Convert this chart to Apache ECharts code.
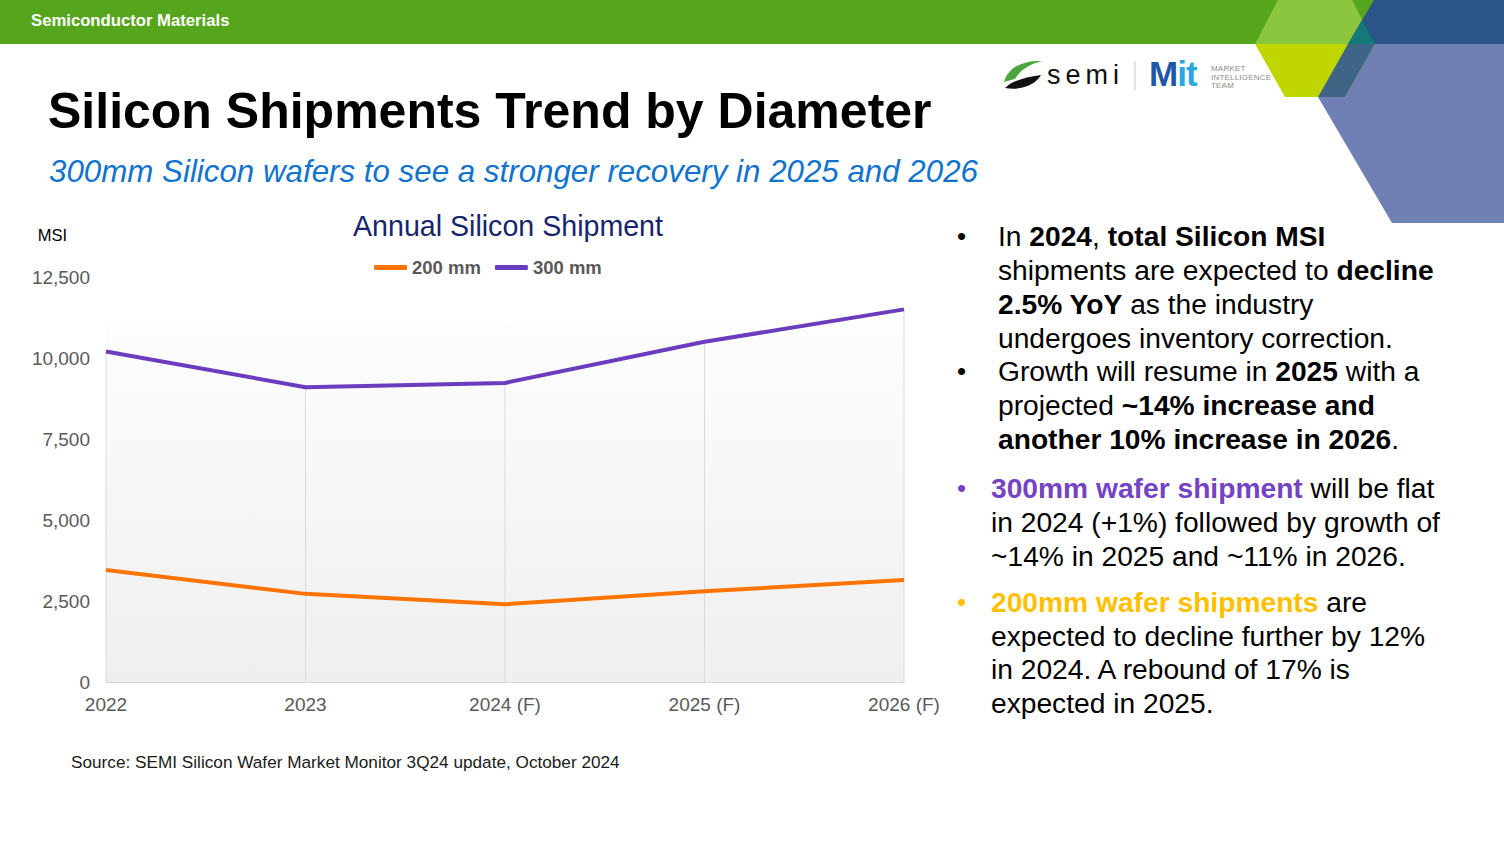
<!DOCTYPE html>
<html>
<head>
<meta charset="utf-8">
<script src="https://cdn.jsdelivr.net/npm/echarts@6/dist/echarts.min.js"></script>
<style>
  html, body { margin: 0; padding: 0; background: #ffffff; }
  body { width: 1504px; height: 846px; position: relative; overflow: hidden; font-family: "Liberation Sans", Arial, sans-serif; }
  .abs { position: absolute; white-space: nowrap; }
  #band { position: absolute; left: 0; top: 0; width: 1504px; height: 44px; background: #56a61d; }
  #hdr { left: 31px; top: 12px; font-size: 16.7px; line-height: 18px; font-weight: bold; color: #ffffff; }
  #title { left: 48px; top: 86px; font-size: 50px; line-height: 50px; font-weight: bold; color: #000; }
  #subtitle { left: 49px; top: 156px; font-size: 31.3px; line-height: 31px; font-style: italic; color: #1073cc; }
  #source { left: 71px; top: 753px; font-size: 17.2px; line-height: 18px; color: #1a1a1a; }
  .para { position: absolute; font-size: 28.2px; line-height: 34px; color: #000; white-space: nowrap; }
  .bul { position: absolute; left: -38px; top: 0; font-size: 26px; }
  #chart { position: absolute; left: 0; top: 0; width: 1504px; height: 846px; }
  #deco { position: absolute; left: 0; top: 0; }
</style>
</head>
<body>
<div id="band"></div>
<svg id="deco" width="1504" height="230">
  <!-- lower shapes (below band) -->
  <polygon points="1348,44 1504,44 1504,223 1392,223 1318,97" fill="#7080b5"/>
  <polygon points="1255,44 1375,44 1345,97 1285,97" fill="#bfd600"/>
  <polygon points="1348,44 1375,44 1345,97 1318,97" fill="#3e6486"/>
  <!-- band shapes -->
  <polygon points="1278,0 1352,0 1375,44 1255,44" fill="#8cc63f"/>
  <polygon points="1374,0 1504,0 1504,44 1348,44" fill="#2b5589"/>
  <polygon points="1362,20 1375,44 1348,44" fill="#137a79"/>
  <!-- semi logo swoosh -->
  <path d="M1004,82 C1008,68 1022,60 1042,61 C1030,64 1020,70 1015,79 C1011,80 1007,81 1004,82 Z" fill="#4aa63c"/>
  <path d="M1005,88 C1012,80 1028,77 1041,75 C1036,84 1022,91 1005,88 Z" fill="#111111"/>
  <line x1="1135" y1="61" x2="1135" y2="90" stroke="#c8c8c8" stroke-width="1"/>
</svg>
<div class="abs" style="left:1047px; top:62px; font-size:27px; line-height:27px; letter-spacing:5px; color:#111;">semi</div>
<div class="abs" style="left:1149px; top:57px; font-size:35px; line-height:34px; font-weight:bold; letter-spacing:-1px;"><span style="color:#1f57a8">M</span><span style="color:#2aa7e2">it</span></div>
<div class="abs" style="left:1211px; top:65px; font-size:8px; line-height:8.5px; color:#8a8a8a; letter-spacing:0.2px;">MARKET<br>INTELLIGENCE<br>TEAM</div>

<div id="hdr" class="abs">Semiconductor Materials</div>
<div id="title" class="abs">Silicon Shipments Trend by Diameter</div>
<div id="subtitle" class="abs">300mm Silicon wafers to see a stronger recovery in 2025 and 2026</div>
<div id="source" class="abs">Source: SEMI Silicon Wafer Market Monitor 3Q24 update, October 2024</div>

<div class="para" style="left:998px; top:219px;"><span class="bul" style="left:-41px;">•</span>In <b>2024</b>, <b>total Silicon MSI</b><br>shipments are expected to <b>decline</b><br><b>2.5% YoY</b> as the industry<br>undergoes inventory correction.</div>
<div class="para" style="left:998px; top:354px;"><span class="bul" style="left:-41px;">•</span>Growth will resume in <b>2025</b> with a<br>projected <b>~14% increase and</b><br><b>another 10% increase in 2026</b>.</div>
<div class="para" style="left:991px; top:471px;"><span class="bul" style="left:-34px; color:#7443c4;">•</span><b style="color:#7443c4">300mm wafer shipment</b> will be flat<br>in 2024 (+1%) followed by growth of<br>~14% in 2025 and ~11% in 2026.</div>
<div class="para" style="left:991px; top:586px; line-height:33.7px;"><span class="bul" style="left:-34px; color:#ffc000;">•</span><b style="color:#ffc000">200mm wafer shipments</b> are<br>expected to decline further by 12%<br>in 2024. A rebound of 17% is<br>expected in 2025.</div>

<div id="chart"></div>
<script>
// ---- data ----
const categories = ['2022', '2023', '2024 (F)', '2025 (F)', '2026 (F)'];
const seriesNames = ['200 mm', '300 mm'];
const values200 = [3460, 2720, 2400, 2800, 3150];
const values300 = [10200, 9100, 9230, 10500, 11500];
const yTicks = { min: 0, max: 12500, interval: 2500 };

const chart = echarts.init(document.getElementById('chart'), null, { renderer: 'svg' });
const option = {
  backgroundColor: 'transparent',
  animation: false,
  title: {
    text: 'Annual Silicon Shipment',
    left: 348, top: 206,
    textStyle: { fontFamily: 'Liberation Sans', fontSize: 28.6, fontWeight: 'normal', color: '#17246e' }
  },
  legend: {
    data: seriesNames,
    left: 369, top: 253,
    itemWidth: 33, itemHeight: 5, itemGap: 14,
    icon: 'roundRect',
    textStyle: { fontFamily: 'Liberation Sans', fontSize: 18.5, fontWeight: 'bold', color: '#595959' }
  },
  grid: {
    left: 106, right: 600, top: 277, bottom: 164,
    show: true, borderWidth: 0,
    backgroundColor: {
      type: 'linear', x: 0, y: 0, x2: 0, y2: 1,
      colorStops: [
        { offset: 0, color: '#ffffff' },
        { offset: 0.1, color: '#ffffff' },
        { offset: 0.12, color: '#fdfdfd' },
        { offset: 1, color: '#efefef' }
      ]
    }
  },
  xAxis: {
    type: 'category',
    data: categories,
    boundaryGap: false,
    axisLine: { show: true, lineStyle: { color: '#d9d9d9', width: 1 } },
    axisTick: { show: false },
    splitLine: { show: false },
    axisLabel: { fontFamily: 'Liberation Sans', fontSize: 19, color: '#595959', margin: 13 }
  },
  yAxis: {
    type: 'value',
    min: yTicks.min, max: yTicks.max, interval: yTicks.interval,
    name: 'MSI',
    nameLocation: 'end',
    nameGap: 34,
    nameTextStyle: { fontFamily: 'Liberation Sans', fontSize: 16.5, color: '#000000', align: 'right', padding: [0, 39, 0, 0] },
    axisLine: { show: false },
    axisTick: { show: false },
    splitLine: { show: false },
    axisLabel: {
      fontFamily: 'Liberation Sans', fontSize: 19, color: '#595959', margin: 16,
      formatter: v => v.toLocaleString('en-US')
    }
  },
  series: [
    {
      name: 'drop',
      type: 'bar',
      data: values300,
      barWidth: 1,
      silent: true,
      itemStyle: { color: '#d9d9d9' },
      z: 1
    },
    {
      name: seriesNames[0],
      type: 'line',
      data: values200,
      symbol: 'none',
      lineStyle: { width: 4, color: '#ff7300' },
      itemStyle: { color: '#ff7300' },
      z: 3
    },
    {
      name: seriesNames[1],
      type: 'line',
      data: values300,
      symbol: 'none',
      lineStyle: { width: 4, color: '#6a3dbf' },
      itemStyle: { color: '#6a3dbf' },
      z: 3
    }
  ]
};
chart.setOption(option);
</script>
</body>
</html>
